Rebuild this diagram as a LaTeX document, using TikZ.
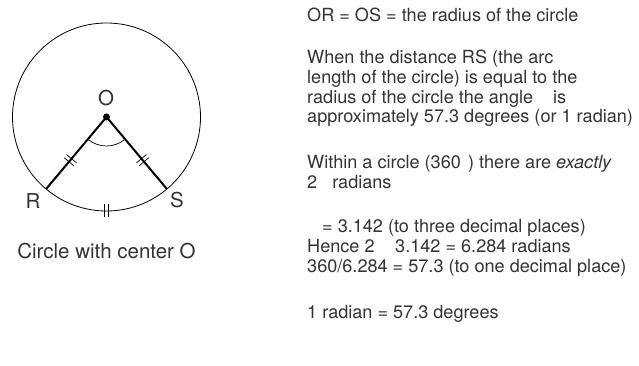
\documentclass[tikz,border=0pt]{standalone}
\usepackage{fontspec}
\setmainfont{TeX Gyre Heros}
\usepackage{tikz}
\usetikzlibrary{decorations.markings}

\tikzset{
    txt/.style={anchor=base west, inner sep=0pt, align=left, text=black!80,
        font=\fontsize{18.1}{19.9}\selectfont},
    lbl/.style={inner sep=0pt, text=black!80, font=\fontsize{20.5}{23}\selectfont},
    eqmark/.style={postaction={decorate}, decoration={markings,
        mark=at position #1 with {\draw[line width=0.7pt] (-2,-6.5) -- (-2,6.5) (2,-6.5) -- (2,6.5);}}}
}

\begin{document}
\begin{tikzpicture}[x=1pt, y=1pt]
    \useasboundingbox (0,0) rectangle (639,366);
    % circle with the two radii
    \coordinate (O) at (106.5,249);
    \coordinate (R) at (46.1,177);
    \coordinate (S) at (166.9,177);
    \draw[line width=0.8pt, eqmark=0.75] (O) circle (94);
    \draw[line width=2pt, eqmark=0.6] (O) -- (R);
    \draw[line width=2pt, eqmark=0.6] (O) -- (S);
    \draw[line width=0.7pt] ([shift={(-130:29)}]O) arc[start angle=-130, end angle=-50, radius=29];
    \fill (O) circle (3.5);
    \node[lbl] (Olbl) at (106,268) {O};
    \node[lbl] (Rlbl) at (33,165) {R};
    \node[lbl] (Slbl) at (177,166) {S};
    \node[lbl, anchor=base] (caption) at (106.5,107) {Circle with center O};
    % notes on the right (base = last line)
    \node[txt] (p1) at (307,344.5) {OR = OS = the radius of the circle};
    \node[txt] (p2) at (307,243) {When the distance RS (the arc\\
        length of the circle) is equal to the\\
        radius of the circle the angle \hspace{0.55em} is\\
        approximately 57.3 degrees (or 1 radian)};
    \node[txt] (p3) at (307,177.5) {Within a circle (360\hspace{0.4em}) there are \emph{exactly}\\
        2\hspace{0.55em} radians};
    \node[txt] (p4) at (307,93.5) {\hspace*{0.55em} = 3.142 (to three decimal places)\\
        Hence 2 \hspace{0.584em} 3.142 = 6.284 radians\\
        360/6.284 = 57.3 (to one decimal place)};
    \node[txt] (p5) at (307,47.5) {1 radian = 57.3 degrees};
\end{tikzpicture}
\end{document}
